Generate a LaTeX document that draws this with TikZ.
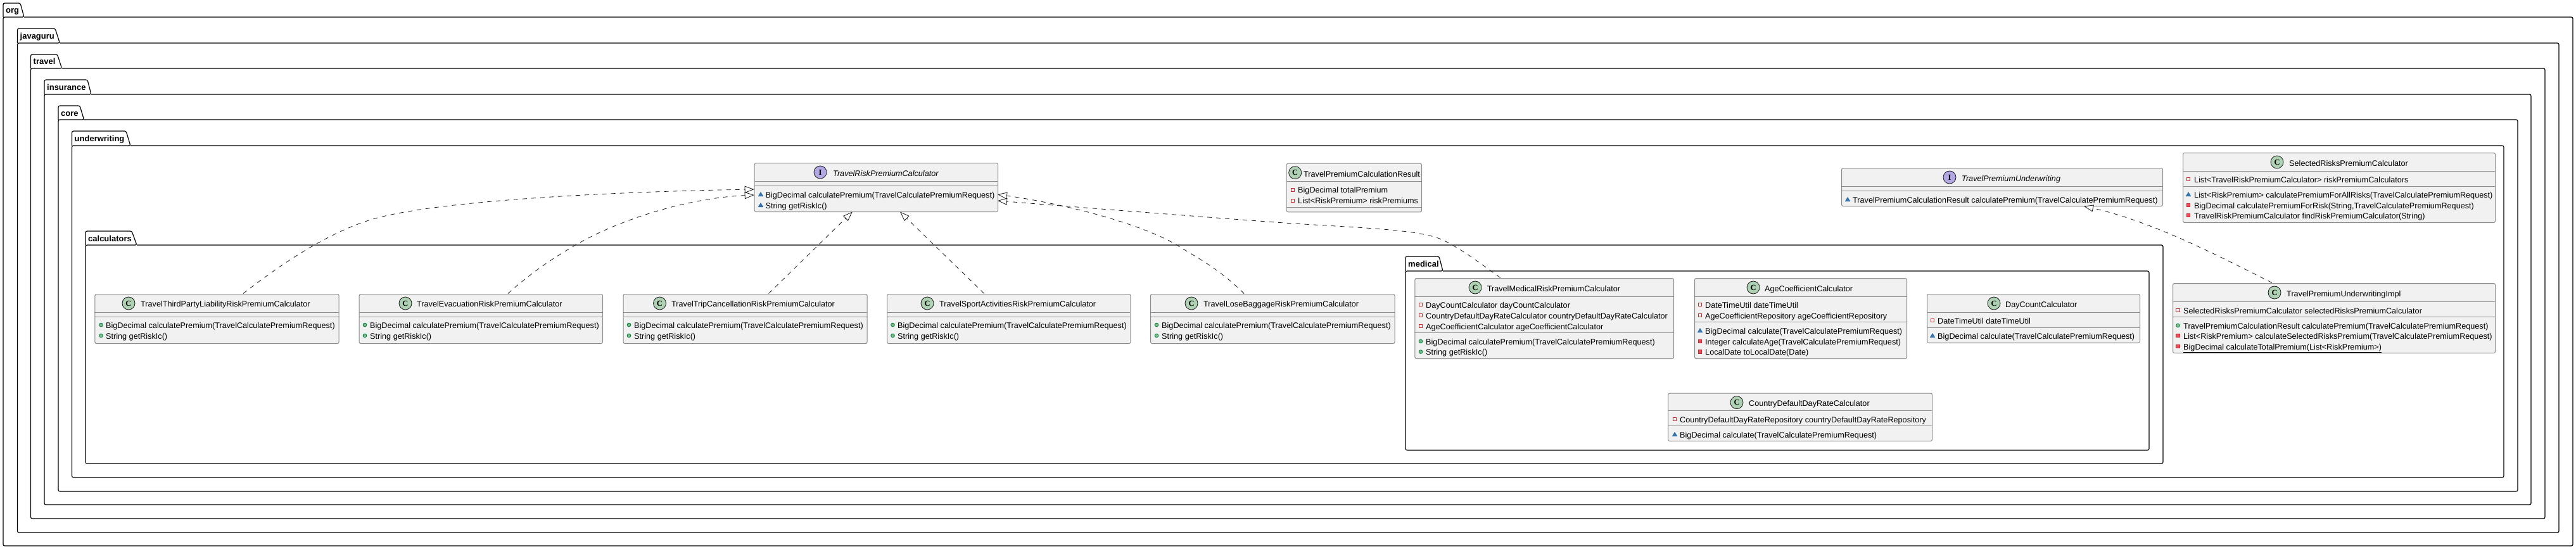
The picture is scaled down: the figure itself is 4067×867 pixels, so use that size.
\documentclass[tikz,border=0pt]{standalone}
\usepackage{fontspec}
\setmainfont{Liberation Sans}
\newfontfamily\letterfont{Liberation Serif}
\usetikzlibrary{arrows.meta}
\definecolor{boxfill}{HTML}{F1F1F1}
\definecolor{boxline}{HTML}{8A8A8A}
\definecolor{clsgreen}{HTML}{ADD1B2}
\definecolor{ifacepurple}{HTML}{B4A7E5}
\definecolor{privline}{HTML}{C82930}
\definecolor{privfill}{HTML}{F24D5C}
\definecolor{pkgline}{HTML}{1963A0}
\definecolor{pkgfill}{HTML}{4177AF}
\definecolor{publine}{HTML}{038048}
\definecolor{pubfill}{HTML}{84BE84}
\definecolor{inkdark}{HTML}{181818}
\newcount\txtno
\newcommand{\fresh}{\global\advance\txtno by 1 }
\def\greenname{clsgreen}
\tikzset{
  pkgframe/.style={draw=black,line width=1.2,rounded corners=2.5},
  pkglabel/.style={anchor=base west,inner sep=0,font=\fontsize{13}{15}\selectfont\bfseries},
  classrect/.style={draw=boxline,fill=boxfill,line width=1,rounded corners=2.5,anchor=north west,inner sep=0},
  sepline/.style={draw=boxline,line width=1},
  badge/.style={circle,draw=inkdark,line width=.8,minimum size=20,inner sep=0,font=\fontsize{12.5}{13}\letterfont\bfseries},
  titletext/.style={anchor=base west,inner sep=0,text=black,font=\fontsize{12.65}{15}\selectfont},
  membertext/.style={anchor=base west,inner sep=0,text=black,font=\fontsize{12.65}{15}\selectfont},
  realize/.style={draw=inkdark,line width=.8,dash pattern=on 7 off 7,
    -{Triangle[open,fill=white,length=15,width=11,line width=.8]}}
}
% package: left, right, top, header line, bottom, tab right at top, tab right at line, name, text
\newcommand{\pkg}[9]{%
  \draw[pkgframe] (#1,#4) -- (#1,#3) -- (#6,#3) -- (#7,#4) -- (#1,#4) -- (#1,#5) -- (#2,#5) -- (#2,#4) -- (#7,#4);
  \node[pkglabel] (#8) at (#1+4,{(#3+#4)/2+5}) {#9};
}
% class: name, x1, x2, top, bottom, sep1, sep2, badge x, badge colour
\newcommand{\cls}[9]{%
  \node[classrect,minimum width={#3-#2},minimum height={#5-#4}] (#1) at (#2,#4) {};
  \draw[sepline] (#2,#6) -- (#3,#6);
  \draw[sepline] (#2,#7) -- (#3,#7);
  \def\badgecol{#9}%
  \node[badge,fill=#9] (#1-badge) at (#8,#4+15) {\ifx\badgecol\greenname C\else I\fi};
}
\newcommand{\ttl}[4]{\node[titletext] (#1-title) at (#2,#3) {#4};}
\newcommand{\privf}[2]{\draw[draw=privline,line width=.9] (#1-2.6,#2-2.6) rectangle (#1+2.6,#2+2.6);}
\newcommand{\privm}[2]{\draw[draw=privline,fill=privfill,line width=.9] (#1-2.8,#2-2.8) rectangle (#1+2.8,#2+2.8);}
\newcommand{\pkgm}[2]{\draw[draw=pkgline,fill=pkgfill,line width=.7] (#1-3.6,#2+2.8) -- (#1+3.6,#2+2.8) -- (#1,#2-3.2) -- cycle;}
\newcommand{\pubm}[2]{\draw[draw=publine,fill=pubfill,line width=.9] (#1,#2) circle (2.8);}
% member: marker macro, marker x, text x, row centre y, text
\newcommand{\memb}[5]{#1{#2}{#4}\fresh\node[membertext] (m\the\txtno) at (#3,#4+5) {#5};}
\begin{document}
\begin{tikzpicture}[x=1pt,y=-1pt]
\useasboundingbox (0,0) rectangle (4067,867);
\pkg{5}{4062}{5}{27}{862}{32}{38}{porg}{org}
\pkg{27.5}{4040}{45}{68}{841}{87}{94.4}{pjavaguru}{javaguru}
\pkg{48.5}{4018}{86}{108}{819}{90.5}{97.6}{ptravel}{travel}
\pkg{70}{3996}{126}{149}{797}{138}{144}{pinsurance}{insurance}
\pkg{92}{3975}{167}{189}{776}{126}{132.6}{pcore}{core}
\pkg{113.5}{3953}{207}{230}{754}{199}{206}{punderwriting}{underwriting}
\pkg{135}{3415}{365}{387}{732}{208}{216}{pcalculators}{calculators}
\pkg{2219}{3393}{405}{428}{711}{2272}{2278}{pmedical}{medical}

% TravelRiskPremiumCalculator
\cls{risk}{1190.7}{1575}{257}{334}{286}{293}{1295}{ifacepurple}
\node[titletext,font=\fontsize{12.65}{15}\selectfont\itshape] (risk-title) at (1315,278) {TravelRiskPremiumCalculator};
\memb{\pkgm}{1201}{1208.5}{307}{BigDecimal calculatePremium(TravelCalculatePremiumRequest)}
\memb{\pkgm}{1201}{1208.5}{324}{String getRiskIc()}

% TravelPremiumCalculationResult
\cls{result}{2030.7}{2244}{257.7}{334.3}{286.7}{327.3}{2044.7}{clsgreen}
\ttl{result}{2058}{279}{TravelPremiumCalculationResult}
\memb{\privf}{2041}{2049}{299.7}{BigDecimal totalPremium}
\memb{\privf}{2041}{2049}{316.7}{List<RiskPremium> riskPremiums}

% TravelPremiumUnderwriting
\cls{uw}{2907}{3414}{265}{325}{294}{301}{3078}{ifacepurple}
\node[titletext,font=\fontsize{12.65}{15}\selectfont\itshape] (uw-title) at (3097,286) {TravelPremiumUnderwriting};
\memb{\pkgm}{2917}{2925}{315}{TravelPremiumCalculationResult calculatePremium(TravelCalculatePremiumRequest)}

% SelectedRisksPremiumCalculator
\cls{selected}{3446}{3939}{241}{351}{270}{294}{3595}{clsgreen}
\ttl{selected}{3614}{262}{SelectedRisksPremiumCalculator}
\memb{\privf}{3455}{3464}{283}{List<TravelRiskPremiumCalculator> riskPremiumCalculators}
\memb{\pkgm}{3455}{3464}{307}{List<RiskPremium> calculatePremiumForAllRisks(TravelCalculatePremiumRequest)}
\memb{\privm}{3455}{3464}{324}{BigDecimal calculatePremiumForRisk(String,TravelCalculatePremiumRequest)}
\memb{\privm}{3455}{3464}{340}{TravelRiskPremiumCalculator findRiskPremiumCalculator(String)}

% TravelPremiumUnderwritingImpl
\cls{impl}{3430}{3939}{447}{557}{476}{500}{3591}{clsgreen}
\ttl{impl}{3610}{468}{TravelPremiumUnderwritingImpl}
\memb{\privf}{3438.5}{3447}{490}{SelectedRisksPremiumCalculator selectedRisksPremiumCalculator}
\memb{\pubm}{3438.5}{3447}{514}{TravelPremiumCalculationResult calculatePremium(TravelCalculatePremiumRequest)}
\memb{\privm}{3438.5}{3447}{530}{List<RiskPremium> calculateSelectedRisksPremium(TravelCalculatePremiumRequest)}
\memb{\privm}{3438.5}{3447}{547}{\underline{BigDecimal calculateTotalPremium(List<RiskPremium>)}}

% Risk calculators
\cls{third}{149.4}{534.6}{464}{542}{493}{500}{203}{clsgreen}
\ttl{third}{222}{484.3}{TravelThirdPartyLiabilityRiskPremiumCalculator}
\memb{\pubm}{159.5}{167}{513}{BigDecimal calculatePremium(TravelCalculatePremiumRequest)}
\memb{\pubm}{159.5}{167}{530}{String getRiskIc()}

\cls{evac}{566.7}{951}{464}{542}{493}{500}{640}{clsgreen}
\ttl{evac}{658}{484.3}{TravelEvacuationRiskPremiumCalculator}
\memb{\pubm}{576}{584}{513}{BigDecimal calculatePremium(TravelCalculatePremiumRequest)}
\memb{\pubm}{576}{584}{530}{String getRiskIc()}

\cls{trip}{983.5}{1368.6}{464}{542}{493}{500}{1041.5}{clsgreen}
\ttl{trip}{1060}{484.3}{TravelTripCancellationRiskPremiumCalculator}
\memb{\pubm}{993}{1001}{513}{BigDecimal calculatePremium(TravelCalculatePremiumRequest)}
\memb{\pubm}{993}{1001}{530}{String getRiskIc()}

\cls{sport}{1400}{1784.4}{464}{542}{493}{500}{1464}{clsgreen}
\ttl{sport}{1483}{484.3}{TravelSportActivitiesRiskPremiumCalculator}
\memb{\pubm}{1409.5}{1417}{513}{BigDecimal calculatePremium(TravelCalculatePremiumRequest)}
\memb{\pubm}{1409.5}{1417}{530}{String getRiskIc()}

\cls{baggage}{1816}{2201.5}{464}{542}{493}{500}{1881}{clsgreen}
\ttl{baggage}{1900}{484.3}{TravelLoseBaggageRiskPremiumCalculator}
\memb{\pubm}{1826}{1834}{513}{BigDecimal calculatePremium(TravelCalculatePremiumRequest)}
\memb{\pubm}{1826}{1834}{530}{String getRiskIc()}

% medical
\cls{medicalc}{2233.4}{2642}{439}{566}{468}{525}{2329}{clsgreen}
\ttl{medicalc}{2347.6}{460}{TravelMedicalRiskPremiumCalculator}
\memb{\privf}{2243}{2251}{481}{DayCountCalculator dayCountCalculator}
\memb{\privf}{2243}{2251}{498}{CountryDefaultDayRateCalculator countryDefaultDayRateCalculator}
\memb{\privf}{2243}{2251}{515}{AgeCoefficientCalculator ageCoefficientCalculator}
\memb{\pubm}{2243}{2251}{539}{BigDecimal calculatePremium(TravelCalculatePremiumRequest)}
\memb{\pubm}{2243}{2251}{555.6}{String getRiskIc()}

\cls{age}{2675}{3010}{439}{566}{468}{508}{2768}{clsgreen}
\ttl{age}{2786}{460}{AgeCoefficientCalculator}
\memb{\privf}{2684}{2692}{481}{DateTimeUtil dateTimeUtil}
\memb{\privf}{2684}{2692}{498}{AgeCoefficientRepository ageCoefficientRepository}
\memb{\pkgm}{2684}{2692}{522}{BigDecimal calculate(TravelCalculatePremiumRequest)}
\memb{\privm}{2684}{2692}{539}{Integer calculateAge(TravelCalculatePremiumRequest)}
\memb{\privm}{2684}{2692}{555.6}{LocalDate toLocalDate(Date)}

\cls{day}{3042}{3378}{464}{541}{493}{517}{3148}{clsgreen}
\ttl{day}{3166}{485}{DayCountCalculator}
\memb{\privf}{3051}{3059}{506}{DateTimeUtil dateTimeUtil}
\memb{\pkgm}{3051}{3059}{530}{BigDecimal calculate(TravelCalculatePremiumRequest)}

\cls{country}{2633}{3050}{620.7}{696}{648.5}{672.5}{2742}{clsgreen}
\ttl{country}{2761}{641}{CountryDefaultDayRateCalculator}
\memb{\privf}{2644}{2652}{662}{CountryDefaultDayRateRepository countryDefaultDayRateRepository}
\memb{\pkgm}{2644}{2652}{686}{BigDecimal calculate(TravelCalculatePremiumRequest)}

% connector ends
\coordinate (third-out) at (384,463.5);
\coordinate (evac-out) at (802,463.5);
\coordinate (trip-out) at (1213.6,463.5);
\coordinate (sport-out) at (1553.6,463.5);
\coordinate (baggage-out) at (1964,463.5);
\coordinate (medical-out) at (2368.6,438.5);
\coordinate (impl-out) at (3587,446.5);
\coordinate (risk-in1) at (1190.7,299);
\coordinate (risk-in2) at (1190.7,308);
\coordinate (risk-in3) at (1345.7,334.5);
\coordinate (risk-in4) at (1421,334.5);
\coordinate (risk-in5) at (1575,307);
\coordinate (risk-in6) at (1575,317);
\coordinate (uw-in) at (3290,325.7);

\draw[realize] (third-out) .. controls (440,420) and (510,372) .. (579,349) .. controls (680,315) and (1000,302) .. (risk-in1);
\draw[realize] (evac-out) .. controls (845,425) and (885,400) .. (921,380) .. controls (1000,338) and (1100,312) .. (risk-in2);
\draw[realize] (trip-out) -- (risk-in3);
\draw[realize] (sport-out) -- (risk-in4);
\draw[realize] (baggage-out) .. controls (1925,425) and (1895,410) .. (1858,387) .. controls (1810,358) and (1700,325) .. (risk-in5);
\draw[realize] (medical-out) .. controls (2340,418) and (2310,395) .. (2280,380) .. controls (2240,360) and (2130,360) .. (2000,350) .. controls (1800,335) and (1700,327) .. (risk-in6);
\draw[realize] (impl-out) .. controls (3510,408) and (3400,350) .. (uw-in);
\end{tikzpicture}
\end{document}
